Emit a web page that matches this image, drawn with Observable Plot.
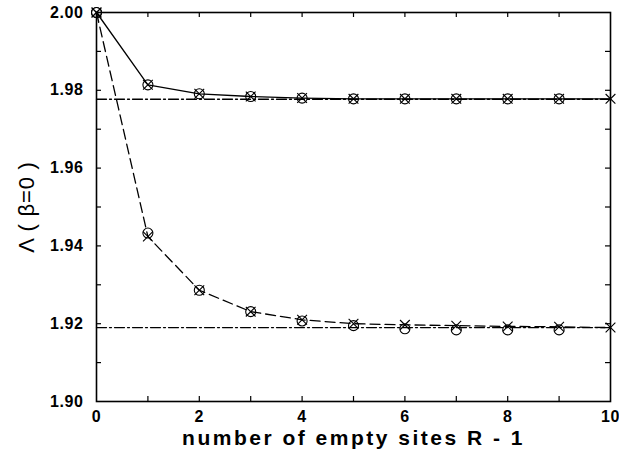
<!DOCTYPE html>
<html>
<head>
<meta charset="utf-8">
<script src="https://cdn.jsdelivr.net/npm/d3@7"></script>
<script src="https://cdn.jsdelivr.net/npm/@observablehq/plot@0.6"></script>
<style>
  html, body { margin: 0; padding: 0; background: #fff; }
  svg { display: block; }
</style>
</head>
<body>
<div id="chart"></div>
<script>
// ---- data ----
const crossX = [0, 1, 2, 3, 4, 5, 6, 7, 8, 9, 10];
const circleX = [0, 1, 2, 3, 4, 5, 6, 7, 8, 9];
const upperCross = [2.0000, 1.9814, 1.9791, 1.9784, 1.9780, 1.9778, 1.9778, 1.9778, 1.9778, 1.9778, 1.9778];
const upperCircle = [2.0000, 1.9814, 1.9791, 1.9784, 1.9780, 1.9778, 1.9778, 1.9778, 1.9778, 1.9778];
const lowerCross = [2.0000, 1.9424, 1.9286, 1.9231, 1.9210, 1.9200, 1.9197, 1.9195, 1.9193, 1.9192, 1.9190];
const lowerCircle = [2.0000, 1.9433, 1.9286, 1.9231, 1.9207, 1.9195, 1.9187, 1.9184, 1.9184, 1.9184];
const asymptotes = [1.9777, 1.9190];
const asymX = [0, 10];
const xTickLabels = [0, 2, 4, 6, 8, 10];
const xTicksAll = [1, 2, 3, 4, 5, 6, 7, 8, 9];
const yTickLabels = [1.90, 1.92, 1.94, 1.96, 1.98, 2.00];
const yTicksAll = [1.91, 1.92, 1.93, 1.94, 1.95, 1.96, 1.97, 1.98, 1.99];
const xLabel = "number of empty sites R - 1";
const yLabel = "Λ ( β=0 )";

// ---- tables ----
const mk = (xs, ys) => xs.map((x, i) => ({x, y: ys[i]}));
const uCross = mk(crossX, upperCross);
const uCircle = mk(circleX, upperCircle);
const lCross = mk(crossX, lowerCross);
const lCircle = mk(circleX, lowerCircle);
const asymRows = asymptotes.flatMap((v, k) => asymX.map(x => ({x, y: v, k})));

const W = 619, H = 460;
const mL = 96, mR = 9, mT = 12, mB = 59;
const innerW = W - mL - mR, innerH = H - mT - mB;
const tk = 5;
const font = "'Liberation Sans', Arial, Helvetica, sans-serif";
const fx = d3.format("d"), fy = d3.format(".2f");

const chart = Plot.plot({
  width: W,
  height: H,
  marginLeft: mL,
  marginRight: mR,
  marginTop: mT,
  marginBottom: mB,
  style: {fontFamily: font, background: "#fff", color: "#000"},
  x: {domain: [0, 10]},
  y: {domain: [1.90, 2.00]},
  marks: [
    // tick labels
    Plot.axisX(xTickLabels, {tickSize: 0, tickPadding: 9, fontSize: 16, fontWeight: "bold", label: null, tickFormat: fx}),
    Plot.axisY(yTickLabels, {tickSize: 0, tickPadding: 13, fontSize: 16, fontWeight: "bold", label: null, tickFormat: fy}),
    // inward ticks on all four sides
    Plot.tickX(xTicksAll, {x: d => d, insetTop: innerH - tk, stroke: "#000", strokeWidth: 1.2}),
    Plot.tickX(xTicksAll, {x: d => d, insetBottom: innerH - tk, stroke: "#000", strokeWidth: 1.2}),
    Plot.tickY(yTicksAll, {y: d => d, insetRight: innerW - tk, stroke: "#000", strokeWidth: 1.2}),
    Plot.tickY(yTicksAll, {y: d => d, insetLeft: innerW - tk, stroke: "#000", strokeWidth: 1.2}),
    // asymptotes (dash-dot)
    Plot.line(asymRows, {x: "x", y: "y", z: "k", stroke: "#000", strokeWidth: 1.3, strokeDasharray: "10,3,2,3"}),
    // curves
    Plot.line(uCross, {x: "x", y: "y", stroke: "#000", strokeWidth: 1.3}),
    Plot.line(lCross, {x: "x", y: "y", stroke: "#000", strokeWidth: 1.3, strokeDasharray: "10,5"}),
    // markers
    Plot.dot(uCircle, {x: "x", y: "y", r: 5, stroke: "#000", fill: "none", strokeWidth: 1.1}),
    Plot.dot(lCircle, {x: "x", y: "y", r: 5, stroke: "#000", fill: "none", strokeWidth: 1.1}),
    Plot.dot(uCross, {x: "x", y: "y", symbol: "times", r: 4.5, stroke: "#000", strokeWidth: 1.1}),
    Plot.dot(lCross, {x: "x", y: "y", symbol: "times", r: 4.5, stroke: "#000", strokeWidth: 1.1}),
    // frame
    Plot.frame({stroke: "#000", strokeWidth: 1.6}),
    // axis titles
    Plot.text([xLabel], {frameAnchor: "bottom", dy: 43, fontSize: 21, fontWeight: "bold", fill: "#000", text: d => d}),
    Plot.text([yLabel], {frameAnchor: "left", textAnchor: "middle", dx: -70, rotate: -90, fontSize: 22, fill: "#000", text: d => d})
  ]
});

// letter spacing to match the wider lettering of the original
const tickStrings = new Set([...xTickLabels.map(fx), ...yTickLabels.map(fy)]);
d3.select(chart).selectAll("text").each(function () {
  const t = this.textContent;
  if (t === xLabel) this.style.letterSpacing = "2.5px";
  else if (t === yLabel) this.style.letterSpacing = "0.8px";
  else if (tickStrings.has(t)) this.style.letterSpacing = "0.6px";
});

document.getElementById("chart").appendChild(chart);
</script>
</body>
</html>
